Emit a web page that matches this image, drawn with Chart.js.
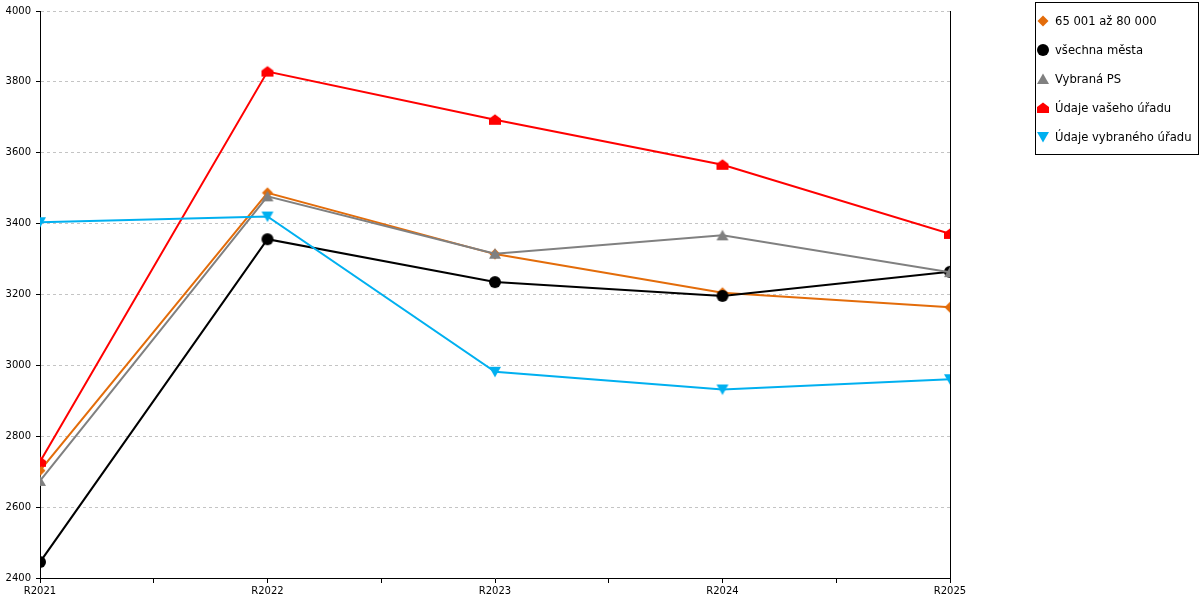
<!DOCTYPE html>
<html>
<head>
<meta charset="utf-8">
<script src="https://cdn.jsdelivr.net/npm/chart.js@4"></script>
<style>
  body { margin: 0; background: #fff; }
  #wrap { position: relative; width: 1200px; height: 600px; }
  #legenda {
    position: absolute; left: 1035px; top: 2px; width: 164px; height: 153px;
    border: 1px solid #000; box-sizing: border-box;
    font-family: "DejaVu Sans", sans-serif; font-size: 11.6px; color: #000;
  }
  .polozka { position: absolute; left: 0; height: 14px; line-height: 14px; white-space: nowrap; }
  .polozka canvas { position: absolute; left: 0; top: 0; }
  .polozka span { position: absolute; left: 19px; top: 0; }
</style>
</head>
<body>
<div id="wrap">
  <canvas id="graf"></canvas>
  <div id="legenda"></div>
</div>
<script>
const roky = ["R2021", "R2022", "R2023", "R2024", "R2025"];
const nazvy = ["65 001 až 80 000", "všechna města", "Vybraná PS", "Údaje vašeho úřadu", "Údaje vybraného úřadu"];
const data_velikost = [2703, 3487, 3314, 3205, 3164];
const data_mesta    = [2445, 3356, 3235, 3196, 3264];
const data_ps       = [2674, 3477, 3315, 3367, 3263];
const data_urad     = [2728, 3829, 3693, 3566, 3371];
const data_vybrany  = [3404, 3420, 2982, 2932, 2961];
const barvy = ["#E36C0A", "#000000", "#808080", "#FF0000", "#00B0F0"];
const tvary = ["diamond", "circle", "up", "house", "down"];

// markery kreslime sami, at jsou v grafu i v legende stejne
function marker(tvar, barva) {
	const c = document.createElement("canvas");
	c.width = 14; c.height = 14;
	const g = c.getContext("2d");
	g.fillStyle = barva;
	g.beginPath();
	if (tvar === "circle") {
		g.arc(7, 7, 6, 0, Math.PI * 2);
	} else if (tvar === "diamond") {
		g.moveTo(7, 1.5); g.lineTo(12.5, 7); g.lineTo(7, 12.5); g.lineTo(1.5, 7);
	} else if (tvar === "up") {
		g.moveTo(7, 1.5); g.lineTo(13, 12); g.lineTo(1, 12);
	} else if (tvar === "down") {
		g.moveTo(1, 2); g.lineTo(13, 2); g.lineTo(7, 12.5);
	} else if (tvar === "house") {
		g.moveTo(7, 1.5); g.lineTo(13, 6); g.lineTo(13, 12); g.lineTo(1, 12); g.lineTo(1, 6);
	}
	g.closePath();
	g.fill();
	return c;
}

const rady = [data_velikost, data_mesta, data_ps, data_urad, data_vybrany];
const datasets = rady.map((r, i) => ({
	label: nazvy[i],
	data: r.map((v, j) => ({ x: j, y: v })),
	borderColor: barvy[i],
	backgroundColor: barvy[i],
	borderWidth: 2,
	tension: 0,
	pointStyle: marker(tvary[i], barvy[i]),
	pointRadius: 6,
	order: 5 - i,
}));

const ctx = document.getElementById("graf").getContext("2d");
let Graf = new Chart(ctx, {
	type: "line",
	data: { datasets: datasets },
	options: {
		responsive: true,
		maintainAspectRatio: false,
		animation: false,
		layout: { padding: { top: 10, right: 250, left: 0, bottom: 0 } },
		plugins: {
			legend: { display: false },
			tooltip: { enabled: false },
		},
		scales: {
			x: {
				type: "linear",
				min: 0,
				max: 4,
				afterFit: (s) => { s.height = 22; },
				grid: {
					drawOnChartArea: false,
					drawTicks: true,
					tickLength: 5,
					color: "#000",
				},
				border: { color: "#000" },
				ticks: {
					stepSize: 0.5,
					autoSkip: false,
					maxRotation: 0,
					padding: 2,
					color: "#000",
					font: { family: "DejaVu Sans", size: 10 },
					callback: (v) => Number.isInteger(v) ? roky[v] : "",
				},
			},
			y: {
				min: 2400,
				max: 4000,
				afterFit: (s) => { s.width = 40; },
				grid: {
					color: "#c4c4c4",
					tickColor: "#000",
					tickLength: 4,
				},
				border: { color: "#000", dash: [3, 3] },
				ticks: {
					stepSize: 200,
					padding: 5,
					color: "#000",
					font: { family: "DejaVu Sans", size: 10 },
					callback: (v) => String(v),
				},
			},
			y2: {
				position: "right",
				min: 2400,
				max: 4000,
				afterFit: (s) => { s.width = 0; },
				grid: { drawOnChartArea: false, drawTicks: false },
				border: { color: "#000" },
				ticks: { display: false },
			},
		},
	},
});

// legenda vpravo
const leg = document.getElementById("legenda");
nazvy.forEach((n, i) => {
	const d = document.createElement("div");
	d.className = "polozka";
	d.style.top = (11 + i * 29) + "px";
	d.appendChild(marker(tvary[i], barvy[i]));
	const s = document.createElement("span");
	s.textContent = n;
	d.appendChild(s);
	leg.appendChild(d);
});
</script>
</body>
</html>
